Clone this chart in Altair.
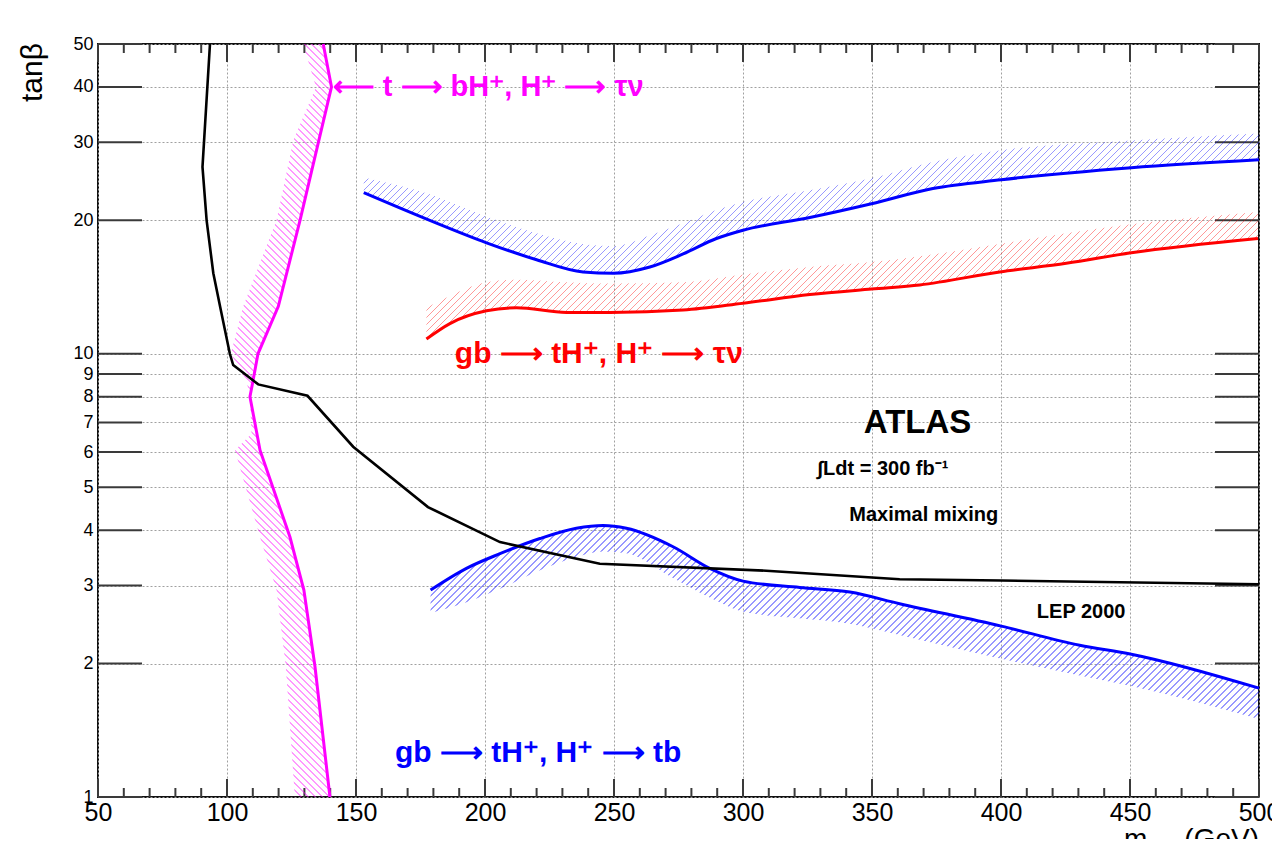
import math
import altair as alt
import pandas as pd

# ---------------- data ----------------
x_ticks_major = [50, 100, 150, 200, 250, 300, 350, 400, 450, 500]
x_ticks_minor = [60, 70, 80, 90, 110, 120, 130, 140, 160, 170, 180, 190, 210, 220, 230, 240,
                 260, 270, 280, 290, 310, 320, 330, 340, 360, 370, 380, 390, 410, 420, 430, 440,
                 460, 470, 480, 490]
y_ticks = [1, 2, 3, 4, 5, 6, 7, 8, 9, 10, 20, 30, 40, 50]

# LEP 2000 (black)
blk_x = [93.4, 90.5, 92.1, 94.7, 97.3, 101.1, 102.4, 112.1, 131.2, 148.9, 177.9, 205.8, 244.5, 309.0, 360.7, 400.1, 500.0]
blk_y = [50.0, 26.4, 20.0, 15.2, 12.8, 10.0, 9.43, 8.53, 8.04, 6.17, 4.51, 3.76, 3.36, 3.24, 3.10, 3.08, 3.02]

# t -> bH+, H+ -> tau nu (magenta), hatched band to the left
mag_y = [50.0, 40.0, 30.3, 20.0, 12.8, 10.0, 8.7, 8.0, 6.6, 6.06, 3.86, 2.93, 1.97, 1.0]
mag_x = [137.3, 140.5, 135.6, 128.3, 119.9, 112.0, 110.1, 108.9, 111.6, 112.8, 124.4, 129.8, 134.1, 139.9]
mag_out = [129.5, 134.5, 125.7, 119.2, 106.3, 101.5, 107.5, 108.9, 109.5, 103.1, 112.8, 119.2, 122.8, 126.3]

# gb -> tH+, H+ -> tau nu (blue, upper)
bu_x = [153.0, 178.6, 200.6, 220.0, 238.0, 249.7, 263.9, 276.8, 289.7, 300.0, 325.9, 349.8, 373.6, 400.1, 450.5, 500.0]
bu_y = [23.1, 20.0, 17.8, 16.3, 15.3, 15.2, 15.7, 16.8, 18.2, 19.0, 20.3, 21.8, 23.6, 24.7, 26.3, 27.4]
bu_out = [25.0, 22.9, 20.4, 18.7, 17.7, 17.5, 18.5, 19.7, 21.1, 22.0, 23.4, 24.9, 27.1, 28.8, 30.3, 31.4]

# gb -> tH+, H+ -> tau nu (red)
rd_x = [177.3, 186.4, 200.6, 212.2, 231.6, 248.4, 276.8, 300.0, 325.9, 349.8, 368.5, 399.5, 425.3, 450.5, 499.6]
rd_y = [10.8, 11.7, 12.5, 12.7, 12.4, 12.4, 12.55, 13.0, 13.6, 14.0, 14.3, 15.3, 16.0, 16.9, 18.2]
rd_out = [12.7, 13.5, 14.5, 14.7, 14.5, 14.4, 14.5, 15.1, 15.7, 16.1, 16.6, 17.7, 18.7, 19.6, 20.9]

# gb -> tH+, H+ -> tb (blue, lower), hatched band below
bl_x = [178.9, 192.8, 205.8, 221.3, 235.4, 245.8, 254.8, 272.9, 287.1, 300.0, 322.0, 341.4, 360.7, 400.1, 430.5, 450.5, 500.0]
bl_y = [2.93, 3.28, 3.54, 3.83, 4.04, 4.10, 4.04, 3.67, 3.28, 3.07, 2.97, 2.90, 2.73, 2.43, 2.20, 2.10, 1.76]
bl_out = [2.60, 2.75, 2.95, 3.25, 3.48, 3.58, 3.55, 3.12, 2.82, 2.62, 2.53, 2.46, 2.32, 2.05, 1.88, 1.78, 1.50]

# annotations (data coordinates)
labels = [
    {"x": 141.0, "y": 40.0, "t": "\u27f5 t \u27f6 bH\u207a, H\u207a \u27f6 \u03c4\u03bd", "c": "#ff00ff", "s": 29},
    {"x": 188.3, "y": 10.0, "t": "gb \u27f6 tH\u207a, H\u207a \u27f6 \u03c4\u03bd", "c": "#ff0000", "s": 30},
    {"x": 165.1, "y": 1.26, "t": "gb \u27f6 tH\u207a, H\u207a \u27f6 tb", "c": "#0000ff", "s": 30},
    {"x": 346.8, "y": 6.97, "t": "ATLAS", "c": "#000000", "s": 33},
    {"x": 328.9, "y": 5.49, "t": "\u222bLdt = 300 fb\u207b\u00b9", "c": "#000000", "s": 20},
    {"x": 341.2, "y": 4.32, "t": "Maximal mixing", "c": "#000000", "s": 20},
    {"x": 413.9, "y": 2.62, "t": "LEP 2000", "c": "#000000", "s": 20},
]

# ---------------- geometry / style ----------------
W, H = 1161, 753
FONT = "Liberation Sans"
SX = W / (x_ticks_major[-1] - x_ticks_major[0])
SY = H / math.log(y_ticks[-1] / y_ticks[0])

xs = alt.Scale(domain=[50, 500], nice=False, zero=False)
ys = alt.Scale(type="log", domain=[1, 50], nice=False)

AX = alt.Axis(values=x_ticks_major, title=None, grid=True, gridDash=[2, 2], gridColor="#a0a0a0",
              gridWidth=1, ticks=False, tickSize=0, domain=False, labelFont=FONT, labelFontSize=25,
              labelColor="black", labelPadding=3, labelFlush=False, labelOverlap=False, zindex=0)
AY = alt.Axis(values=y_ticks, format="d", title=None, grid=True, gridDash=[2, 2], gridColor="#a0a0a0",
              gridWidth=1, ticks=False, tickSize=0, domain=False, labelFont=FONT, labelFontSize=18,
              labelColor="black", labelPadding=5, labelOverlap=False, zindex=0)


def X(f="x:Q"):
    return alt.X(f, scale=xs, axis=AX)


def Y(f="y:Q"):
    return alt.Y(f, scale=ys, axis=AY)


def hatch(xmin, xmax, ymin, ymax, color, back=False, period=7.0, thick=1.1):
    wp = (xmax - xmin) * SX
    hp = math.log(ymax / ymin) * SY
    m = max(wp, hp)
    a, b = wp / m, hp / m
    s = (a + b) / (a * a + b * b)
    n = (wp + hp) / period
    frac = thick / (period / math.sqrt(2))
    clear = "rgba(255,255,255,0)"
    stops = []
    i = 0
    while i / n < 1:
        t0 = i / n
        t1 = min(1.0, (i + frac) / n)
        t2 = min(1.0, (i + 1) / n)
        stops += [{"offset": t0, "color": color}, {"offset": t1, "color": color},
                  {"offset": t1, "color": clear}, {"offset": t2, "color": clear}]
        i += 1
    if back:
        return {"gradient": "linear", "x1": 0, "y1": 1, "x2": s * a, "y2": 1 - s * b, "stops": stops}
    return {"gradient": "linear", "x1": 0, "y1": 0, "x2": s * a, "y2": s * b, "stops": stops}


def df(**cols):
    d = pd.DataFrame(cols)
    d["i"] = range(len(d))
    return d


layers = []
blk = df(x=blk_x, y=blk_y)

# ticks (inside the frame)
tick_col = "#3a3a3a"
xmaj = pd.DataFrame({"x": x_ticks_major})
xmin_ = pd.DataFrame({"x": x_ticks_minor})
yt = pd.DataFrame({"y": y_ticks})
for d, ln in ((xmaj, 18), (xmin_, 9)):
    layers.append(alt.Chart(d).mark_rule(color=tick_col, strokeWidth=2).encode(
        x=X(), y=alt.value(H), y2=alt.value(H - ln)))
    layers.append(alt.Chart(d).mark_rule(color=tick_col, strokeWidth=2).encode(
        x=X(), y=alt.value(0), y2=alt.value(ln)))
layers.append(alt.Chart(yt).mark_rule(color=tick_col, strokeWidth=2).encode(
    y=Y(), x=alt.value(0), x2=alt.value(44)))
layers.append(alt.Chart(yt).mark_rule(color=tick_col, strokeWidth=2).encode(
    y=Y(), x=alt.value(W), x2=alt.value(W - 44)))

# hatched bands
bu = df(x=bu_x, y=bu_y, y2=bu_out)
rd = df(x=rd_x, y=rd_y, y2=rd_out)
bl = df(x=bl_x, y=bl_y, y2=bl_out)
mg = df(x=mag_x, y=mag_y, x2=mag_out)
for d, col in ((bu, "#0000ff"), (rd, "#ff0000"), (bl, "#0000ff")):
    ymin = min(min(d["y"]), min(d["y2"]))
    ymax = max(max(d["y"]), max(d["y2"]))
    g = hatch(min(d["x"]), max(d["x"]), ymin, ymax, col)
    layers.append(alt.Chart(d).mark_area(fill=g, opacity=0.4, interpolate="monotone", orient="vertical").encode(
        x=X(), y=Y(), y2="y2:Q"))
gm = hatch(min(min(mg["x"]), min(mg["x2"])), max(max(mg["x"]), max(mg["x2"])), min(mg["y"]), max(mg["y"]),
           "#ff00ff", back=True)
layers.append(alt.Chart(mg).mark_area(fill=gm, opacity=0.4, orient="horizontal").encode(
    y=Y(), x=X(), x2="x2:Q"))

# curves
for d, col in ((bu, "#0000ff"), (rd, "#ff0000"), (bl, "#0000ff")):
    layers.append(alt.Chart(d).mark_line(color=col, strokeWidth=3, interpolate="monotone").encode(
        x=X(), y=Y(), order="i:Q"))
layers.append(alt.Chart(mg).mark_line(color="#ff00ff", strokeWidth=3).encode(
    x=X(), y=Y(), order="i:Q"))
layers.append(alt.Chart(blk).mark_line(color="black", strokeWidth=2.6).encode(
    x=X(), y=Y(), order="i:Q"))

# annotations
for lab in labels:
    layers.append(alt.Chart(pd.DataFrame([lab])).mark_text(
        align="left", baseline="middle", font=FONT, fontWeight="bold", fontSize=lab["s"], color=lab["c"]
    ).encode(x=X(), y=Y(), text="t:N"))

# axis titles
layers.append(alt.Chart(pd.DataFrame({"t": ["tan\u03b2"]})).mark_text(
    align="right", baseline="middle", angle=270, font=FONT, fontSize=30, color="black").encode(
    x=alt.value(-65), y=alt.value(-1), text="t:N"))
layers.append(alt.Chart(pd.DataFrame({"t": ["(GeV)"]})).mark_text(
    align="right", baseline="alphabetic", font=FONT, fontSize=28, color="black").encode(
    x=alt.value(W), y=alt.value(804), text="t:N"))
layers.append(alt.Chart(pd.DataFrame({"t": ["m"]})).mark_text(
    align="left", baseline="alphabetic", font=FONT, fontSize=28, color="black").encode(
    x=alt.value(1026), y=alt.value(804), text="t:N"))
layers.append(alt.Chart(pd.DataFrame({"t": ["A"]})).mark_text(
    align="left", baseline="alphabetic", font=FONT, fontSize=18, color="black").encode(
    x=alt.value(1051), y=alt.value(811), text="t:N"))

chart = alt.layer(*layers).properties(
    width=W, height=H,
    autosize=alt.AutoSizeParams(type="none"),
    padding={"left": 90, "top": 36, "right": 13, "bottom": 42},
    background="white",
).configure_view(stroke="#111", strokeWidth=2)

chart.save("out.html", embed_options={"renderer": "svg", "actions": False})
